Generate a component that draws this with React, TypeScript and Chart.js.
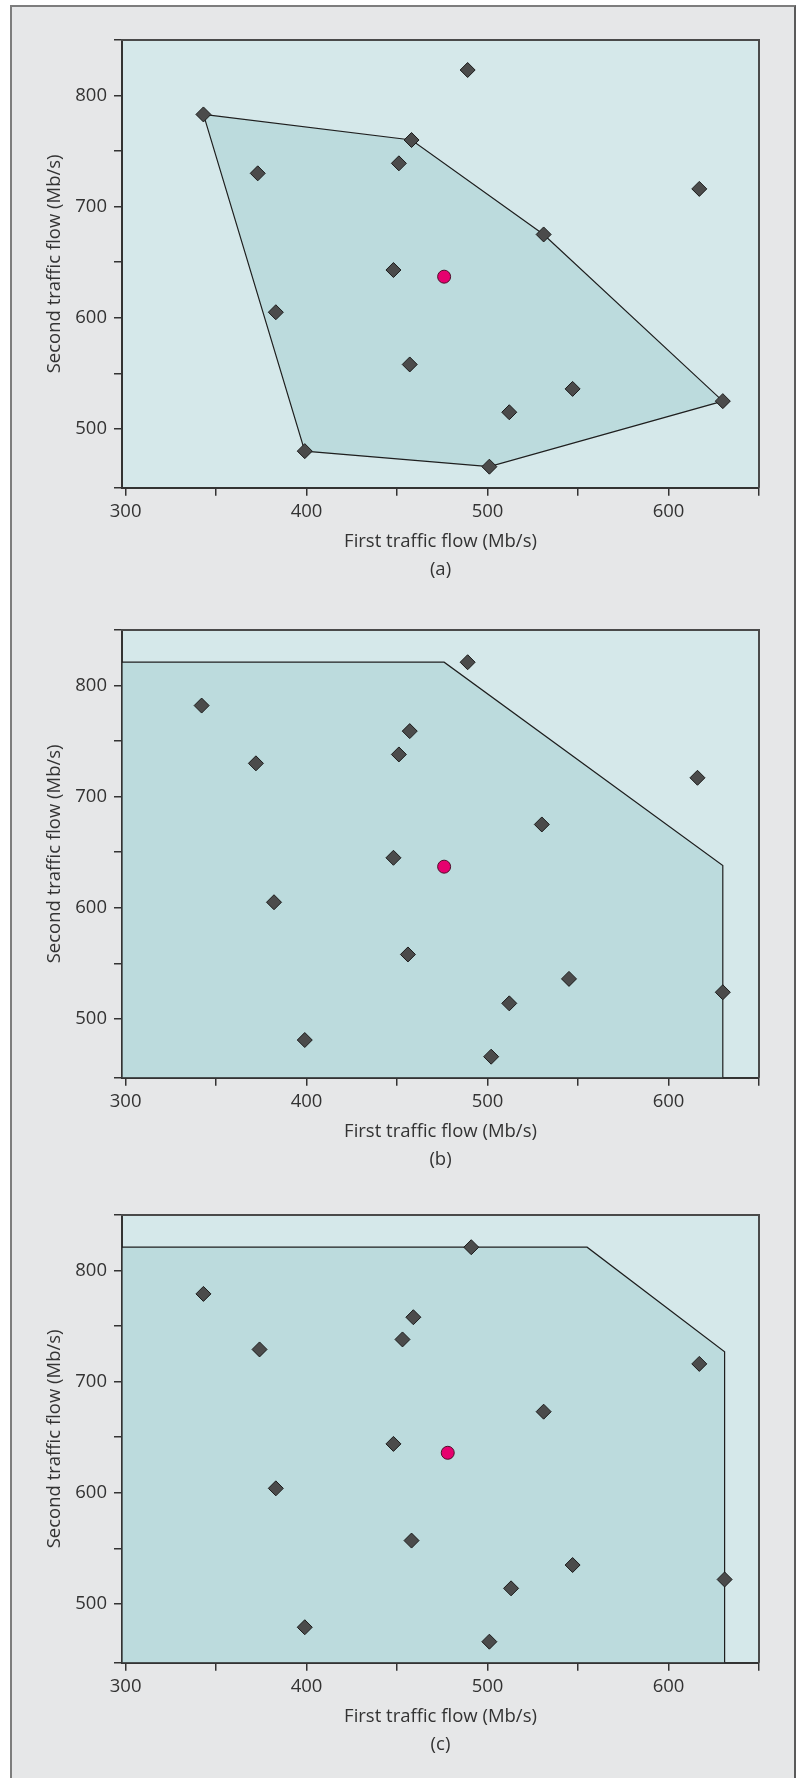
import React, { useEffect, useRef } from 'react';
import { Chart, registerables } from 'chart.js';

Chart.register(...registerables);

// ---------- axes ----------
const X_MIN = 298;
const X_MAX = 650;
const Y_MIN = 447;
const Y_MAX = 850;
const X_TICKS = [300, 350, 400, 450, 500, 550, 600, 650];
const X_LABELS = [300, 400, 500, 600];
const Y_TICKS = [447, 500, 550, 600, 650, 700, 750, 800, 850];
const Y_LABELS = [500, 600, 700, 800];
const X_TITLE = 'First traffic flow (Mb/s)';
const Y_TITLE = 'Second traffic flow (Mb/s)';
const PANEL_LABELS = ['(a)', '(b)', '(c)'];

// ---------- panel (a) ----------
const FLOWS_A_X = [489, 343, 458, 451, 373, 617, 531, 448, 383, 457, 547, 512, 630, 399, 501];
const FLOWS_A_Y = [823, 783, 760, 739, 730, 716, 675, 643, 605, 558, 536, 515, 525, 480, 466];
const CENTER_A = [476, 637];
const REGION_A_X = [343, 458, 531, 630, 501, 399, 343];
const REGION_A_Y = [783, 760, 675, 525, 466, 480, 783];

// ---------- panel (b) ----------
const FLOWS_B_X = [489, 342, 457, 451, 372, 616, 530, 448, 382, 456, 545, 512, 630, 399, 502];
const FLOWS_B_Y = [821, 782, 759, 738, 730, 717, 675, 645, 605, 558, 536, 514, 524, 481, 466];
const CENTER_B = [476, 637];
const REGION_B_X = [298, 476, 630, 630, 298, 298];
const REGION_B_Y = [821, 821, 638, 447, 447, 821];

// ---------- panel (c) ----------
const FLOWS_C_X = [491, 343, 459, 453, 374, 617, 531, 448, 383, 458, 547, 513, 631, 399, 501];
const FLOWS_C_Y = [821, 779, 758, 738, 729, 716, 673, 644, 604, 557, 535, 514, 522, 479, 466];
const CENTER_C = [478, 636];
const REGION_C_X = [298, 555, 631, 631, 298, 298];
const REGION_C_Y = [821, 821, 727, 447, 447, 821];

const PANELS = [
  { fx: FLOWS_A_X, fy: FLOWS_A_Y, c: CENTER_A, rx: REGION_A_X, ry: REGION_A_Y },
  { fx: FLOWS_B_X, fy: FLOWS_B_Y, c: CENTER_B, rx: REGION_B_X, ry: REGION_B_Y },
  { fx: FLOWS_C_X, fy: FLOWS_C_Y, c: CENTER_C, rx: REGION_C_X, ry: REGION_C_Y },
];

// ---------- style ----------
const CANVAS_TOPS = [0, 590, 1175];
const CANVAS_W = 803;
const CANVAS_H = 590;
const PLOT_BG = '#d5e8ea';
const REGION_BG = '#bcdbdd';
const INK = '#333333';
const FONT = "'Open Sans', 'Liberation Sans', sans-serif";

const framePlugin = {
  id: 'plotFrame',
  beforeDraw(chart: any) {
    const { ctx, chartArea: a } = chart;
    ctx.save();
    ctx.fillStyle = PLOT_BG;
    ctx.fillRect(a.left, a.top, a.right - a.left, a.bottom - a.top);
    ctx.restore();
  },
  afterDraw(chart: any) {
    const { ctx, chartArea: a } = chart;
    ctx.save();
    ctx.strokeStyle = '#4a4a4a';
    ctx.lineWidth = 2;
    ctx.beginPath();
    ctx.moveTo(a.left - 1, a.top);
    ctx.lineTo(a.right, a.top);
    ctx.lineTo(a.right, a.bottom);
    ctx.stroke();
    ctx.restore();
  },
};

function Panel({ index }: { index: number }) {
  const ref = useRef<HTMLCanvasElement | null>(null);
  useEffect(() => {
    const p = PANELS[index];
    const chart = new Chart(ref.current as HTMLCanvasElement, {
      type: 'scatter',
      data: {
        datasets: [
          {
            label: 'centre',
            data: [{ x: p.c[0], y: p.c[1] }],
            pointStyle: 'circle',
            pointRadius: 6.5,
            backgroundColor: '#e6006e',
            borderColor: '#4d0f2a',
            borderWidth: 1,
          },
          {
            label: 'flows',
            data: p.fx.map((x, i) => ({ x, y: p.fy[i] })),
            pointStyle: 'rectRot',
            pointRadius: 7.5,
            backgroundColor: '#4b4b4b',
            borderColor: '#1c1c1c',
            borderWidth: 1,
          },
          {
            label: 'region',
            type: 'line',
            data: p.rx.map((x, i) => ({ x, y: p.ry[i] })),
            showLine: true,
            fill: 'shape',
            tension: 0,
            pointRadius: 0,
            borderColor: '#1f1f1f',
            borderWidth: 1.2,
            backgroundColor: REGION_BG,
          } as any,
        ],
      },
      options: {
        animation: false,
        responsive: false,
        events: [],
        layout: { padding: { left: 0, right: 44, top: 40, bottom: 5.95 } },
        plugins: { legend: { display: false }, tooltip: { enabled: false } },
        scales: {
          x: {
            type: 'linear',
            position: 'bottom',
            min: X_MIN,
            max: X_MAX,
            z: 1,
            afterBuildTicks: (s: any) => {
              s.ticks = X_TICKS.map((v) => ({ value: v }));
            },
            afterFit: (s: any) => {
              s.height = 96.25;
            },
            border: { display: true, color: INK, width: 2 },
            grid: { drawOnChartArea: false, drawTicks: true, tickLength: 8, color: INK, lineWidth: 1.5 },
            ticks: {
              padding: 5,
              color: INK,
              font: { family: FONT, size: 18.5 },
              maxRotation: 0,
              autoSkip: false,
              callback: (v: any) => (X_LABELS.includes(Number(v)) ? String(v) : ''),
            },
            title: {
              display: true,
              text: [X_TITLE, PANEL_LABELS[index]],
              color: INK,
              font: { family: FONT, size: 18.5, lineHeight: '28.5px' },
              padding: { top: 0, bottom: 0 },
            },
          },
          y: {
            type: 'linear',
            position: 'left',
            min: Y_MIN,
            max: Y_MAX,
            z: 1,
            afterBuildTicks: (s: any) => {
              s.ticks = Y_TICKS.map((v) => ({ value: v }));
            },
            afterFit: (s: any) => {
              s.width = 122;
            },
            border: { display: true, color: INK, width: 2 },
            grid: { drawOnChartArea: false, drawTicks: true, tickLength: 8, color: INK, lineWidth: 1.5 },
            ticks: {
              padding: 7,
              color: INK,
              font: { family: FONT, size: 18.5 },
              autoSkip: false,
              callback: (v: any) => (Y_LABELS.includes(Number(v)) ? String(v) : ''),
            },
            title: {
              display: true,
              text: Y_TITLE,
              color: INK,
              font: { family: FONT, size: 18.5 },
              padding: { top: 43.5, bottom: 0 },
            },
          },
        },
      },
      plugins: [framePlugin],
    } as any);
    return () => chart.destroy();
  }, [index]);
  return (
    <canvas
      ref={ref}
      width={CANVAS_W}
      height={CANVAS_H}
      style={{ position: 'absolute', left: 0, top: CANVAS_TOPS[index], width: CANVAS_W, height: CANVAS_H }}
    />
  );
}

export default function App() {
  return (
    <div
      style={{
        position: 'absolute',
        left: 0,
        top: 0,
        width: 803,
        height: 1778,
        overflow: 'hidden',
        background: '#ffffff',
      }}
    >
      <div
        style={{
          position: 'absolute',
          left: 10,
          top: 5,
          width: 786,
          height: 1800,
          boxSizing: 'border-box',
          background: '#e6e7e8',
          borderLeft: '2px solid #7d7d7d',
          borderTop: '2px solid #7d7d7d',
          borderRight: '2px solid #5a5a5a',
        }}
      />
      {PANELS.map((_, i) => (
        <Panel key={i} index={i} />
      ))}
    </div>
  );
}
